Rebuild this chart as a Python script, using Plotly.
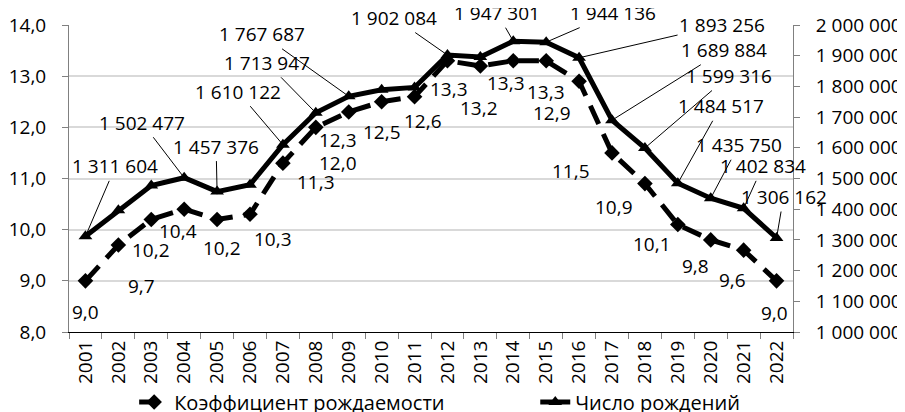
import plotly.graph_objects as go
from plotly.subplots import make_subplots

# ---- data ----
years = list(range(2001, 2023))
birth_rate = [9.0, 9.7, 10.2, 10.4, 10.2, 10.3, 11.3, 12.0, 12.3, 12.5, 12.6,
              13.3, 13.2, 13.3, 13.3, 12.9, 11.5, 10.9, 10.1, 9.8, 9.6, 9.0]
births = [1311604, 1396967, 1477301, 1502477, 1457376, 1479637, 1610122,
          1713947, 1767687, 1788948, 1796629, 1902084, 1895822, 1947301,
          1944136, 1893256, 1689884, 1599316, 1484517, 1435750, 1402834,
          1306162]
# years whose birth count carries a label in the source
births_labelled = [2001, 2004, 2005, 2007, 2008, 2009, 2012, 2014, 2015,
                   2016, 2017, 2018, 2019, 2020, 2021, 2022]

# ---- label placement (pixel offsets from the point, +y is down) ----
rate_offset = [(0, 31), (23, 41), (0, 31), (-6, 22), (5, 29), (23, 25),
               (33, 19), (22, 36), (-11, 28), (0, 30), (8, 24), (2, 28),
               (-1, 42), (-7, 22), (0, 31), (-27, 32), (-41, 18),
               (-31, 23), (-26, 19), (-15, 26), (-11, 30), (-2, 32)]
births_offset = {2001: (30, -70), 2004: (-42, -55), 2005: (-1, -45),
                 2007: (-45, -53), 2008: (-49, -50), 2009: (-87, -62),
                 2012: (-53, -37), 2014: (-16, -28), 2015: (67, -29),
                 2016: (143, -33), 2017: (112, -70), 2018: (84, -72),
                 2019: (43, -77), 2020: (28, -53), 2021: (19, -42),
                 2022: (7, -41)}

FONT = "Open Sans"
FS = 19


def sp(n):
    return f"{n:,}".replace(",", " ")


fig = make_subplots(specs=[[{"secondary_y": True}]])

fig.add_trace(go.Scatter(
    x=years, y=birth_rate, name="Коэффициент рождаемости",
    mode="lines+markers", legend="legend",
    line=dict(color="black", width=5, dash="20px,11px"),
    marker=dict(symbol="diamond", size=12, color="black")),
    secondary_y=False)

fig.add_trace(go.Scatter(
    x=years, y=births, name="Число рождений",
    mode="lines+markers", legend="legend2",
    line=dict(color="black", width=5),
    marker=dict(symbol="triangle-up", size=12, color="black")),
    secondary_y=True)

annotations = []
for yr, v, (dx, dy) in zip(years, birth_rate, rate_offset):
    annotations.append(dict(
        x=yr, y=v, xref="x", yref="y", showarrow=False,
        text=f"{v:.1f}".replace(".", ","), xshift=dx, yshift=-dy,
        font=dict(family=FONT, size=FS, color="black")))

for yr, v in zip(years, births):
    if yr not in births_labelled:
        continue
    dx, dy = births_offset[yr]
    annotations.append(dict(
        x=yr, y=v, xref="x", yref="y2", showarrow=True,
        ax=dx, ay=dy, arrowhead=0, arrowwidth=1, arrowcolor="black",
        standoff=2, text=sp(v),
        font=dict(family=FONT, size=FS, color="black")))

legend_style = dict(orientation="h", xanchor="left", y=-0.228,
                    yanchor="middle", font=dict(family=FONT, size=20),
                    bgcolor="rgba(0,0,0,0)")

# the page body adds an 8px margin, so the figure is 8px smaller
fig.update_layout(
    width=897, height=404,
    margin=dict(l=61, r=112, t=17, b=80, autoexpand=False),
    paper_bgcolor="white", plot_bgcolor="white",
    separators=", ",
    font=dict(family=FONT, size=FS, color="black"),
    showlegend=True,
    legend=dict(x=0.09, **legend_style),
    legend2=dict(x=0.644, **legend_style),
    annotations=annotations,
)

fig.update_xaxes(domain=[0, 1], range=[2000.5, 2022.5], tickmode="array",
                 tickvals=years, ticktext=[str(y) for y in years],
                 tickangle=-90, ticks="",
                 minor=dict(tick0=2000.5, dtick=1, ticks="outside", ticklen=6,
                            tickcolor="#808080", showgrid=False),
                 showline=True, linecolor="black", linewidth=1,
                 showgrid=False, zeroline=False, automargin=False,
                 tickfont=dict(family=FONT, size=FS))
fig.update_yaxes(range=[8, 14], dtick=1, tickformat=".1f",
                 showline=True, linecolor="#808080", linewidth=1,
                 ticks="outside", ticklen=6, tickcolor="#808080",
                 ticklabelstandoff=12, automargin=False,
                 showgrid=True, gridcolor="#d9d9d9", gridwidth=2,
                 zeroline=False, tickfont=dict(family=FONT, size=FS),
                 secondary_y=False)
fig.update_yaxes(range=[1000000, 2000000], dtick=100000, tickformat=",d",
                 showline=True, linecolor="#808080", linewidth=1,
                 ticks="outside", ticklen=6, tickcolor="#808080",
                 ticklabelstandoff=12, automargin=False,
                 showgrid=False, zeroline=False,
                 tickfont=dict(family=FONT, size=FS),
                 secondary_y=True)

fig.write_html("out.html")
